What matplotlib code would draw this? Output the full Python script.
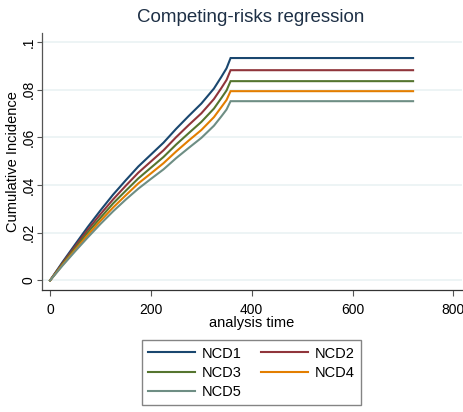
import matplotlib
matplotlib.use("Agg")
import matplotlib.pyplot as plt

base = "Liberation Sans"

# ---- data ----
time = [0, 25, 50, 75, 100, 125, 150, 175, 200, 225, 250, 275, 300, 325, 340, 350, 358, 720]
ncd1 = [0, 0.0078, 0.0152, 0.0225, 0.0294, 0.0360, 0.0420, 0.0478, 0.0528, 0.0578, 0.0636, 0.0690, 0.0742, 0.0805, 0.0855, 0.0890, 0.0933, 0.0933]
ncd2 = [0, 0.0074, 0.0144, 0.0213, 0.0278, 0.0340, 0.0397, 0.0452, 0.0499, 0.0546, 0.0601, 0.0652, 0.0701, 0.0761, 0.0808, 0.0841, 0.0882, 0.0882]
ncd3 = [0, 0.0070, 0.0136, 0.0202, 0.0263, 0.0323, 0.0376, 0.0428, 0.0473, 0.0518, 0.0570, 0.0618, 0.0665, 0.0721, 0.0766, 0.0797, 0.0836, 0.0836]
ncd4 = [0, 0.0066, 0.0129, 0.0191, 0.0250, 0.0306, 0.0357, 0.0407, 0.0449, 0.0492, 0.0541, 0.0587, 0.0631, 0.0685, 0.0728, 0.0757, 0.0794, 0.0794]
ncd5 = [0, 0.0063, 0.0123, 0.0181, 0.0237, 0.0290, 0.0339, 0.0385, 0.0426, 0.0466, 0.0513, 0.0556, 0.0598, 0.0649, 0.0689, 0.0717, 0.0752, 0.0752]
labels = ["NCD1", "NCD2", "NCD3", "NCD4", "NCD5"]
colors = ["#1a476f", "#90353b", "#55752f", "#e37e00", "#6e8e84"]
xticks = [0, 200, 400, 600, 800]
yticks = [0, 0.02, 0.04, 0.06, 0.08, 0.1]
yticklabels = ["0", ".02", ".04", ".06", ".08", ".1"]

W, H = 463, 412
fig = plt.figure(figsize=(W / 100, H / 100), dpi=100)
fig.patch.set_facecolor("white")
ax = fig.add_axes([42 / W, 1 - 290 / H, 420 / W, (290 - 33) / H])

series = [ncd1, ncd2, ncd3, ncd4, ncd5]
lines = []
for s, lab, c in zip(series, labels, colors):
    ln, = ax.plot(time, s, color=c, lw=1.5, label=lab, solid_joinstyle="miter")
    lines.append(ln)

ax.set_xlim(-16, 817)
ax.set_ylim(-0.0040, 0.1038)
ax.set_xticks(xticks)
ax.set_xticklabels([str(t) for t in xticks], fontfamily=base, fontsize=10)
ax.set_yticks(yticks)
ax.set_yticklabels(yticklabels, rotation=90, va="center", fontfamily=base, fontsize=10)
ax.grid(axis="y", color="#eaf2f3", lw=1.2)
ax.set_axisbelow(True)
for sp in ["top", "right"]:
    ax.spines[sp].set_visible(False)
ax.spines["left"].set_color("#555555")
ax.spines["bottom"].set_color("#333333")
ax.spines["left"].set_linewidth(0.9)
ax.spines["bottom"].set_linewidth(0.9)
ax.tick_params(axis="x", length=4.5, width=0.8, color="#555555", pad=5)
ax.tick_params(axis="y", length=3.5, width=0.8, color="#555555", pad=1)

ax.set_xlabel("analysis time", fontfamily=base, fontsize=10.5)
ax.xaxis.set_label_coords(0.5, -(323 - 290) / (290 - 33), transform=ax.transAxes)
ax.xaxis.label.set_va("center")
ax.set_ylabel("Cumulative Incidence", fontfamily=base, fontsize=10.5)
ax.yaxis.set_label_coords(-(42 - 13) / 420, 0.5, transform=ax.transAxes)
ax.yaxis.label.set_va("center")

fig.text(251 / W, 1 - 17 / H, "Competing-risks regression", ha="center", va="center",
         fontfamily=base, fontsize=13.5, color="#1e3046")

# row-major order like the reference: NCD1 NCD2 / NCD3 NCD4 / NCD5
order = [0, 2, 4, 1, 3]
leg = fig.legend([lines[i] for i in order], [labels[i] for i in order], ncol=2,
                 loc="upper center", bbox_to_anchor=(251.5 / W, 1 - 340 / H),
                 frameon=True, fancybox=False, edgecolor="#666666",
                 prop={"family": base, "size": 10.5},
                 handlelength=3.2, handletextpad=0.5, columnspacing=1.3,
                 labelspacing=0.35, borderpad=0.45, borderaxespad=0)
leg.get_frame().set_linewidth(1.0)

fig.savefig("out.png", dpi=100, facecolor="white")
